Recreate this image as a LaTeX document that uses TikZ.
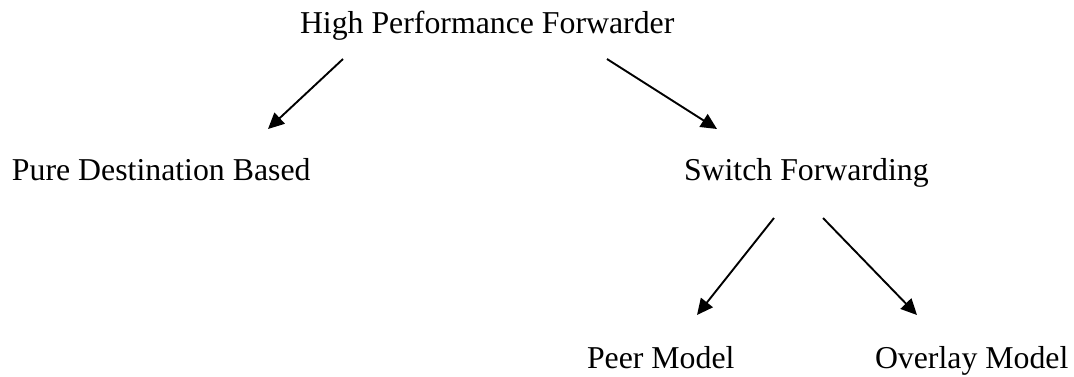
\documentclass[tikz,border=0pt]{standalone}
\usepackage{fontspec}
\setmainfont{Liberation Serif}
\usetikzlibrary{arrows.meta}
\begin{document}
\begin{tikzpicture}[x=1pt,y=-1pt,
  lbl/.style={inner sep=0pt,outer sep=0pt,anchor=base west,font=\fontsize{31.8}{36}\selectfont},
  conn/.style={line width=1.9pt,-{Triangle[length=16pt,width=15pt]}}]
\useasboundingbox (0,0) rectangle (1074,376);
\node[lbl] (hpf) at (300,33) {High Performance Forwarder};
\node[lbl] (pdb) at (12,180) {Pure Destination Based};
\node[lbl] (swf) at (684,180) {Switch Forwarding};
\node[lbl] (peer) at (587,368) {Peer Model};
\node[lbl] (ovl) at (875,368) {Overlay Model};
\coordinate (a1s) at (343,59);
\coordinate (a1e) at (268,129);
\coordinate (a2s) at (607,59);
\coordinate (a2e) at (717,129);
\coordinate (a3s) at (774,218);
\coordinate (a3e) at (697,315);
\coordinate (a4s) at (823,218);
\coordinate (a4e) at (917,315);
\draw[conn] (a1s) -- (a1e);
\draw[conn] (a2s) -- (a2e);
\draw[conn] (a3s) -- (a3e);
\draw[conn] (a4s) -- (a4e);
\end{tikzpicture}
\end{document}
